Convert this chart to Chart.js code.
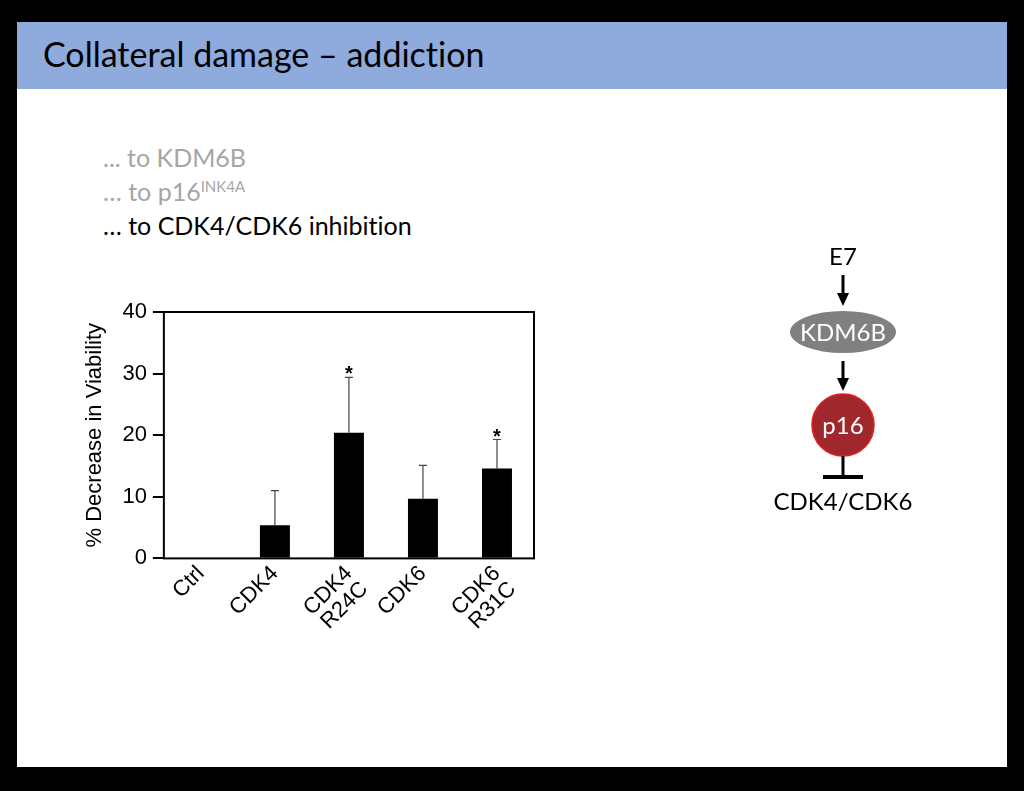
<!DOCTYPE html>
<html lang="en">
<head>
	<meta charset="UTF-8">
	<title>Collateral damage – addiction</title>
	<script src="https://cdn.jsdelivr.net/npm/chart.js"></script>
	<style>
		html, body {
			margin: 0;
			padding: 0;
			background: #000;
			width: 1024px;
			height: 791px;
			overflow: hidden;
		}

		.slide {
			position: absolute;
			left: 17px;
			top: 22px;
			width: 990px;
			height: 745px;
			background: #fff;
			font-family: Lato, "Open Sans", sans-serif;
			font-variant-ligatures: none;
		}

		.title-bar {
			position: absolute;
			left: 0;
			top: 0;
			width: 990px;
			height: 67px;
			background: #8faadc;
		}

		.title-bar h1 {
			margin: 0;
			position: absolute;
			left: 26px;
			top: 11px;
			font-size: 34px;
			font-weight: normal;
			color: #000;
		}

		.bullets {
			position: absolute;
			left: 86px;
			top: 118px;
			font-size: 25px;
			line-height: 34px;
		}

		.bullets .dim {
			color: #a6a6a6;
		}

		.bullets sup {
			font-size: 15px;
			line-height: 0;
		}

		.chart-box {
			position: absolute;
			left: 63px;
			top: 273px;
			width: 480px;
			height: 336px;
		}

		#pathway {
			position: absolute;
			left: 723px;
			top: 188px;
		}
	</style>
</head>

<body>
	<div class="slide">
		<div class="title-bar">
			<h1>Collateral damage – addiction</h1>
		</div>

		<div class="bullets">
			<div class="dim">... to KDM6B</div>
			<div class="dim">… to p16<sup>INK4A</sup></div>
			<div>… to CDK4/CDK6 inhibition</div>
		</div>

		<div class="chart-box">
			<canvas id="viabilityChart"></canvas>
		</div>

		<canvas id="pathway" width="210" height="320"></canvas>
	</div>

	<script>
		// chart data
		const categories = [['Ctrl'], ['CDK4'], ['CDK4', 'R24C'], ['CDK6'], ['CDK6', 'R31C']];
		const decreaseValues = [0, 5.4, 20.4, 9.7, 14.6];
		const errorTops = [0, 11.0, 29.4, 15.1, 19.3];
		const significant = [false, false, true, false, true];
		const yTicks = [0, 10, 20, 30, 40];

		const axisFont = {family: '"Liberation Sans", Arial, sans-serif', size: 22, lineHeight: 1.0};

		// box around the plot area (top and right sides too)
		const frameBox = {
			id: 'frameBox',
			afterDraw(chart) {
				const a = chart.chartArea;
				const ctx = chart.ctx;
				ctx.save();
				ctx.strokeStyle = '#000';
				ctx.lineWidth = 2;
				ctx.strokeRect(a.left, a.top, a.right - a.left, a.bottom - a.top);
				ctx.restore();
			}
		};

		// upper error bars plus significance stars
		const errorBars = {
			id: 'errorBars',
			afterDatasetsDraw(chart) {
				const ctx = chart.ctx;
				const y = chart.scales.y;
				const meta = chart.getDatasetMeta(0);
				ctx.save();
				meta.data.forEach((bar, i) => {
					if (errorTops[i] <= decreaseValues[i]) return;
					const yTop = y.getPixelForValue(errorTops[i]);
					const yBar = y.getPixelForValue(decreaseValues[i]);
					ctx.strokeStyle = '#444';
					ctx.lineWidth = 1.2;
					ctx.beginPath();
					ctx.moveTo(bar.x, yBar);
					ctx.lineTo(bar.x, yTop);
					ctx.moveTo(bar.x - 4, yTop);
					ctx.lineTo(bar.x + 4, yTop);
					ctx.stroke();
					if (significant[i]) {
						ctx.fillStyle = '#000';
						ctx.font = 'bold 20px "Liberation Sans", Arial, sans-serif';
						ctx.textAlign = 'center';
						ctx.fillText('*', bar.x, yTop + 3);
					}
				});
				ctx.restore();
			}
		};

		new Chart(document.getElementById('viabilityChart'), {
			type: 'bar',
			data: {
				labels: categories,
				datasets: [{
					data: decreaseValues,
					backgroundColor: '#000',
					borderWidth: 0,
					barPercentage: 0.405,
					categoryPercentage: 1
				}]
			},
			options: {
				animation: false,
				responsive: true,
				maintainAspectRatio: false,
				layout: {padding: {top: 6, right: 26, left: 2}},
				plugins: {
					legend: {display: false},
					tooltip: {enabled: false}
				},
				scales: {
					x: {
						grid: {display: false},
						border: {display: false},
						ticks: {
							color: '#000',
							font: axisFont,
							maxRotation: 45,
							minRotation: 45,
							padding: -4
						}
					},
					y: {
						min: 0,
						max: 40,
						afterBuildTicks(axis) {
							axis.ticks = yTicks.map(v => ({value: v}));
						},
						grid: {
							drawOnChartArea: false,
							drawTicks: true,
							tickLength: 11,
							color: '#000',
							lineWidth: 2
						},
						border: {display: false},
						ticks: {color: '#000', font: axisFont, padding: 6},
						title: {
							display: true,
							text: '% Decrease in Viability',
							color: '#000',
							font: {family: '"Liberation Sans", Arial, sans-serif', size: 22},
							padding: {top: 0, bottom: 8}
						}
					}
				}
			},
			plugins: [frameBox, errorBars]
		});

		// pathway sketch at right
		function drawPathway() {
			const c = document.getElementById('pathway');
			const ctx = c.getContext('2d');
			const cx = 103;
			const font = '24px Lato, "Open Sans", sans-serif';
			ctx.textAlign = 'center';
			ctx.textBaseline = 'middle';

			ctx.fillStyle = '#000';
			ctx.font = font;
			ctx.fillText('E7', cx, 47);

			function arrow(y1, y2) {
				ctx.strokeStyle = '#000';
				ctx.lineWidth = 3;
				ctx.beginPath();
				ctx.moveTo(cx, y1);
				ctx.lineTo(cx, y2 - 8);
				ctx.stroke();
				ctx.fillStyle = '#000';
				ctx.beginPath();
				ctx.moveTo(cx - 6, y2 - 13);
				ctx.lineTo(cx + 6, y2 - 13);
				ctx.lineTo(cx, y2);
				ctx.closePath();
				ctx.fill();
			}
			arrow(65, 96);

			ctx.fillStyle = '#808080';
			ctx.beginPath();
			ctx.ellipse(cx, 122, 53, 21, 0, 0, Math.PI * 2);
			ctx.fill();
			ctx.fillStyle = '#fff';
			ctx.fillText('KDM6B', cx, 123);

			arrow(151, 181);

			ctx.fillStyle = '#a0282c';
			ctx.strokeStyle = '#e02020';
			ctx.lineWidth = 1.5;
			ctx.beginPath();
			ctx.arc(cx, 215, 31, 0, Math.PI * 2);
			ctx.fill();
			ctx.stroke();
			ctx.fillStyle = '#fff';
			ctx.fillText('p16', cx, 216);

			ctx.strokeStyle = '#000';
			ctx.lineWidth = 3;
			ctx.beginPath();
			ctx.moveTo(cx, 246);
			ctx.lineTo(cx, 266);
			ctx.stroke();
			ctx.lineWidth = 4;
			ctx.beginPath();
			ctx.moveTo(cx - 20, 267);
			ctx.lineTo(cx + 20, 267);
			ctx.stroke();

			ctx.fillStyle = '#000';
			ctx.fillText('CDK4/CDK6', cx, 292);
		}

		window.onload = drawPathway;
	</script>
</body>
</html>
